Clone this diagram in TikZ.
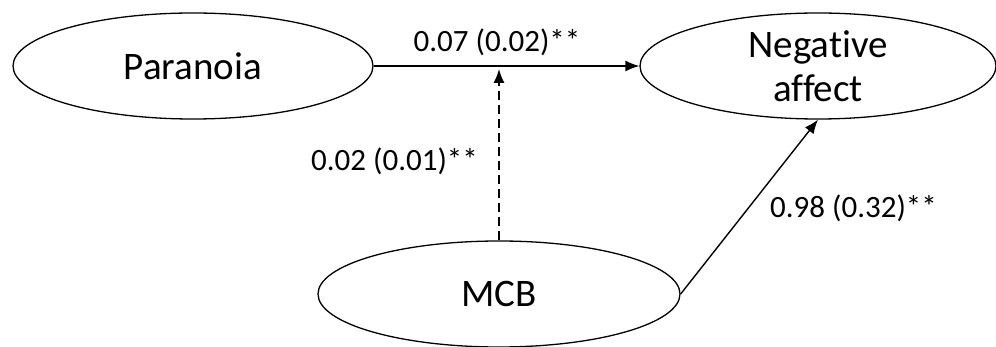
\documentclass[tikz,border=0pt]{standalone}
\usepackage{fontspec}
\setmainfont[Ligatures=NoCommon]{Carlito}
\usetikzlibrary{shapes.geometric,arrows.meta}
\begin{document}
\begin{tikzpicture}[x=1pt,y=-1pt,
  latent/.style={draw,ellipse,line width=1.3pt,inner sep=0pt,
    minimum width=#1,minimum height=106pt,font=\fontsize{39}{40}\selectfont,align=center},
  latent/.default=360pt,
  path/.style={line width=1.4pt,-{Latex[length=14pt,width=11pt]}},
  coef/.style={font=\fontsize{31}{33}\selectfont,inner sep=0pt}]
  \useasboundingbox (0,0) rectangle (996,347);
  \node[latent] (par) at (193,66) {Paranoia};
  \node[latent=356pt,font=\fontsize{39}{44}\selectfont] (neg) at (818,66) {Negative\\affect};
  \node[latent=362pt] (mcb) at (499,294) {MCB};
  \coordinate (mod) at (499,69);
  \draw[path] (par.east) -- (neg.west);
  \draw[path,dashed,dash pattern=on 9pt off 5pt] (mcb.north) -- (mod);
  \draw[path] (mcb.east) -- (neg.south);
  \node[coef] (c1) at (497,42) {0.07 (0.02)**};
  \node[coef,anchor=east] (c2) at (478,161) {0.02 (0.01)**};
  \node[coef,anchor=west] (c3) at (770,208) {0.98 (0.32)**};
\end{tikzpicture}
\end{document}
